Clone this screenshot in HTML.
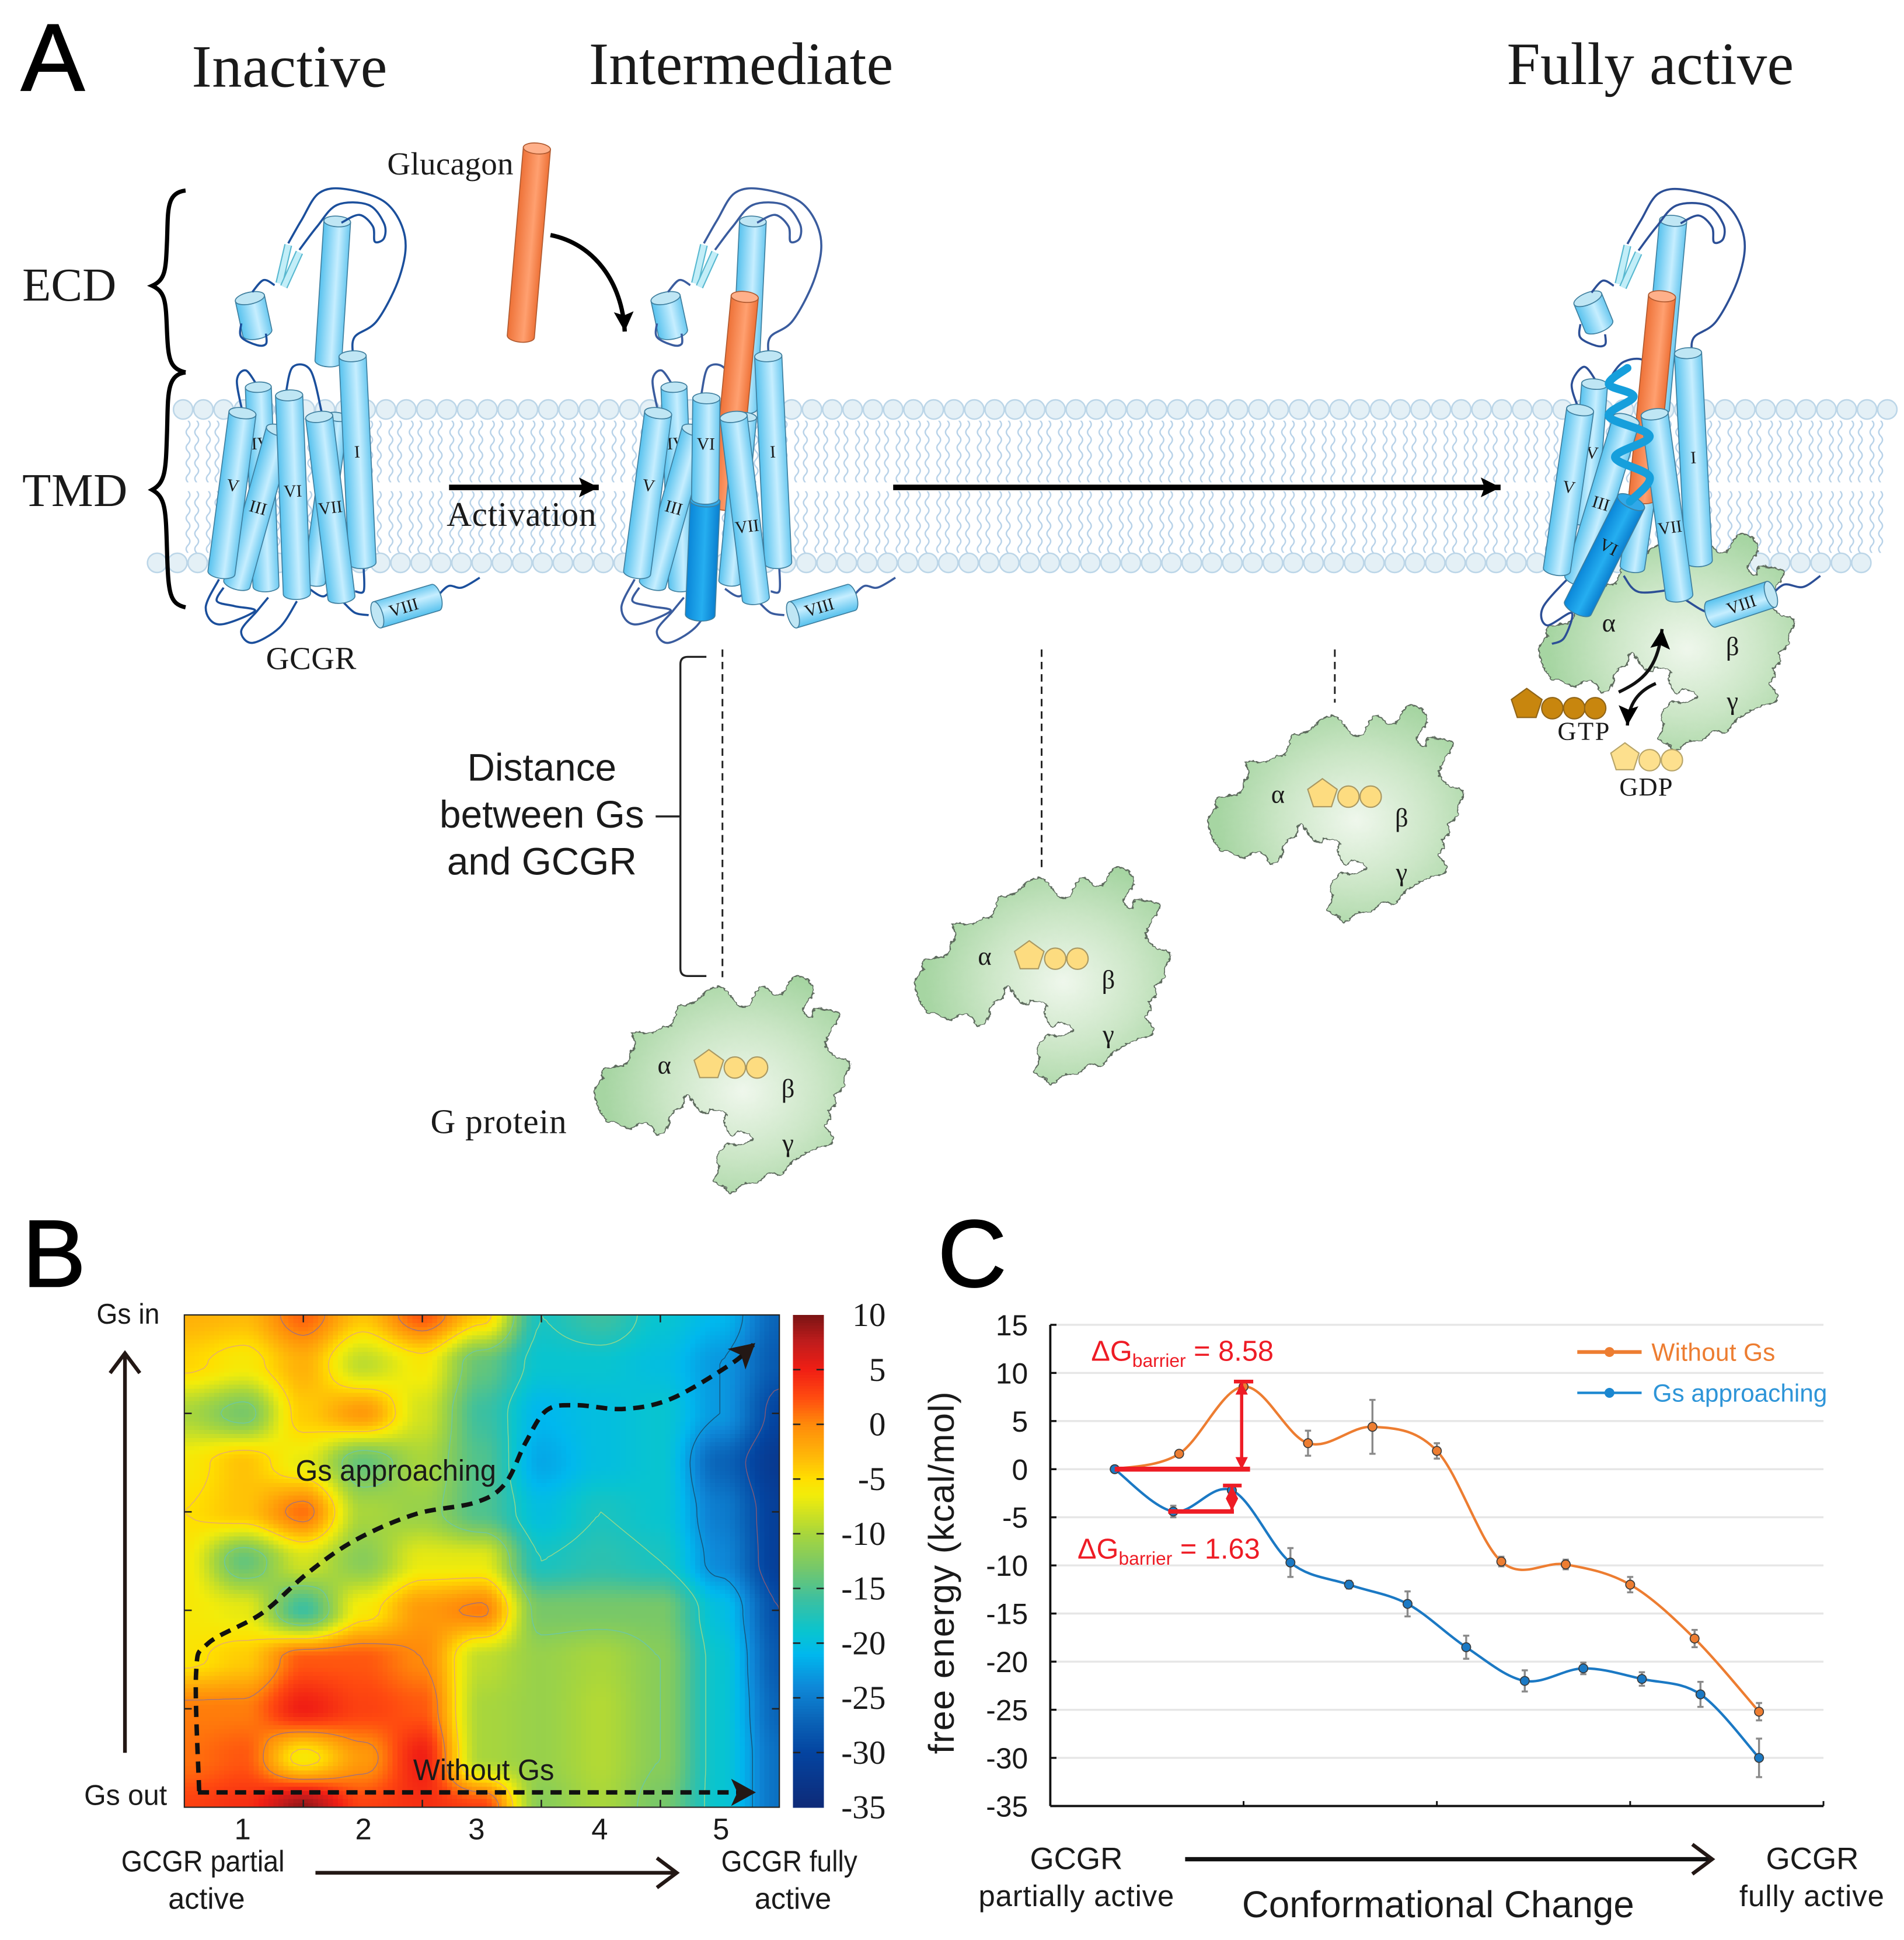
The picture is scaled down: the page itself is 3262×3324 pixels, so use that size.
<!DOCTYPE html>
<html lang="en">
<head>
<meta charset="utf-8">
<title>GCGR activation and free energy figure</title>
<style>
html,body{margin:0;padding:0;background:#fff;}
svg{display:block;}
.serif{font-family:"Liberation Serif",serif;fill:#1a1a1a;}
.sans{font-family:"Liberation Sans",sans-serif;fill:#1a1a1a;}
</style>
</head>
<body>
<svg id="fig" xmlns="http://www.w3.org/2000/svg" width="3262" height="3324" viewBox="0 0 1539.1 1568.3">
<defs>
  <linearGradient id="cy" x1="0" x2="1" y1="0" y2="0"><stop offset="0" stop-color="#58c2ee"/><stop offset=".6" stop-color="#c6eeff"/><stop offset="1" stop-color="#6cc9f0"/></linearGradient>
  <linearGradient id="dk" x1="0" x2="1" y1="0" y2="0"><stop offset="0" stop-color="#0a86d8"/><stop offset=".55" stop-color="#25aef0"/><stop offset="1" stop-color="#0a7fd0"/></linearGradient>
  <linearGradient id="or" x1="0" x2="1" y1="0" y2="0"><stop offset="0" stop-color="#ee7238"/><stop offset=".6" stop-color="#ffa070"/><stop offset="1" stop-color="#ee7238"/></linearGradient>
  <radialGradient id="gp" gradientUnits="userSpaceOnUse" cx="850" cy="760" r="620"><stop offset="0" stop-color="#eff7ec"/><stop offset=".55" stop-color="#cbe6c6"/><stop offset="1" stop-color="#a6d5a2"/></radialGradient>
  <pattern id="tails" patternUnits="userSpaceOnUse" x="148" y="340" width="16.4" height="50">
    <path d="M4,0 q3,3 0,6.25 q-3,3 0,6.25 q3,3 0,6.25 q-3,3 0,6.25 q3,3 0,6.25 q-3,3 0,6.25 q3,3 0,6.25 q-3,3 0,6.25 M11,0 q3,3 0,6.25 q-3,3 0,6.25 q3,3 0,6.25 q-3,3 0,6.25 q3,3 0,6.25 q-3,3 0,6.25 q3,3 0,6.25 q-3,3 0,6.25" fill="none" stroke="#b6d1e8" stroke-width="1.1"/>
  </pattern>
  <pattern id="tails2" patternUnits="userSpaceOnUse" x="148" y="397" width="16.4" height="50">
    <path d="M4,0 q3,3 0,6.25 q-3,3 0,6.25 q3,3 0,6.25 q-3,3 0,6.25 q3,3 0,6.25 q-3,3 0,6.25 q3,3 0,6.25 q-3,3 0,6.25 M11,0 q3,3 0,6.25 q-3,3 0,6.25 q3,3 0,6.25 q-3,3 0,6.25 q3,3 0,6.25 q-3,3 0,6.25 q3,3 0,6.25 q-3,3 0,6.25" fill="none" stroke="#b6d1e8" stroke-width="1.1"/>
  </pattern>
  <marker id="ah" markerUnits="userSpaceOnUse" markerWidth="22" markerHeight="18" refX="16" refY="8" orient="auto"><path d="M0,0 L16,8 L0,16 L3,8 Z" fill="#000"/></marker>
  <marker id="ahOpen" markerUnits="userSpaceOnUse" markerWidth="24" markerHeight="28" refX="19" refY="14" orient="auto"><path d="M3,2 L19,14 L3,26" fill="none" stroke="#231815" stroke-width="3"/></marker>
  <marker id="ahRed" markerUnits="userSpaceOnUse" markerWidth="12" markerHeight="12" refX="9" refY="5" orient="auto-start-reverse"><path d="M0,0 L10,5 L0,10 Z" fill="#ee1c25"/></marker>
  <marker id="ahDash" markerUnits="userSpaceOnUse" markerWidth="26" markerHeight="26" refX="18" refY="11" orient="auto"><path d="M0,0 L20,11 L0,22 L5,11 Z" fill="#231815"/></marker>
  <clipPath id="heatClip"><rect x="149" y="1063" width="481" height="398"/></clipPath>
  <filter id="rough" x="-5%" y="-5%" width="110%" height="110%"><feTurbulence type="fractalNoise" baseFrequency="0.045" numOctaves="2" seed="4"/><feDisplacementMap in="SourceGraphic" scale="24" xChannelSelector="R" yChannelSelector="G"/></filter>
</defs>

<rect x="0" y="0" width="1600" height="1600" fill="#fff"/>

<g id="membrane">
  <rect x="148" y="340" width="1376" height="50" fill="url(#tails)"/>
  <rect x="148" y="397" width="1376" height="50" fill="url(#tails2)"/>
</g>
<g id="blobs"></g>
<g id="rec1"></g>
<g id="rec2"></g>
<g id="blobActive" transform="translate(2.5,0.5)"></g>
<g id="rec3" transform="translate(2.5,0.5)"></g>

<g>
  <text class="sans" x="17" y="73" font-size="77" style="fill:#000;stroke:#000;stroke-width:1">A</text>
  <text class="serif" x="155" y="70" font-size="48.5" textLength="158">Inactive</text>
  <text class="serif" x="476" y="68" font-size="48.5" textLength="246">Intermediate</text>
  <text class="serif" x="1218" y="68" font-size="48.5" textLength="232">Fully active</text>
  <text class="serif" x="18" y="243" font-size="38" textLength="76">ECD</text>
  <text class="serif" x="18" y="409" font-size="38" textLength="85">TMD</text>
  <text class="serif" x="313" y="141" font-size="26" textLength="102">Glucagon</text>
  <text class="serif" x="361" y="425" font-size="28" textLength="121">Activation</text>
  <text class="serif" x="215" y="541" font-size="26" textLength="73">GCGR</text>
  <text class="serif" x="348" y="916" font-size="28" textLength="110">G protein</text>
  <text class="sans" x="438" y="631" font-size="31" text-anchor="middle">Distance</text>
  <text class="sans" x="438" y="669" font-size="31" text-anchor="middle">between Gs</text>
  <text class="sans" x="438" y="707" font-size="31" text-anchor="middle">and GCGR</text>
  <text class="serif" x="1259" y="598" font-size="21" textLength="42">GTP</text>
  <text class="serif" x="1309" y="643" font-size="21" textLength="43">GDP</text>

  <path d="M150,154 C134,156 136,170 135,195 C134,218 134,226 123,231 C134,236 134,244 135,268 C136,290 137,298 150,301" fill="none" stroke="#000" stroke-width="3.4"/>
  <path d="M150,301 C134,303 136,320 135,350 C134,380 134,390 123,396 C134,402 134,412 135,445 C136,480 137,488 150,491" fill="none" stroke="#000" stroke-width="3.4"/>
  <path d="M571,531 L556,531 Q550,531 550,537 L550,783 Q550,789 556,789 L571,789 M530,660 L550,660" fill="none" stroke="#222" stroke-width="1.6"/>
  <line x1="584" y1="525" x2="584" y2="790" stroke="#222" stroke-width="1.4" stroke-dasharray="6 4"/>
  <line x1="842" y1="525" x2="842" y2="702" stroke="#222" stroke-width="1.4" stroke-dasharray="6 4"/>
  <line x1="1079" y1="525" x2="1079" y2="568" stroke="#222" stroke-width="1.4" stroke-dasharray="6 4"/>
  <line x1="363" y1="394" x2="484" y2="394" stroke="#000" stroke-width="4.5" marker-end="url(#ah)"/>
  <line x1="722" y1="394" x2="1213" y2="394" stroke="#000" stroke-width="4.5" marker-end="url(#ah)"/>
  <path d="M445,190 C480,197 503,228 505,268" fill="none" stroke="#000" stroke-width="3.5" marker-end="url(#ah)"/>
  <path transform="translate(2.5,0.5)" d="M1306,559 C1325,550 1338,540 1341,508" fill="none" stroke="#111" stroke-width="2.6" marker-end="url(#ah)"/>
  <path transform="translate(2.5,0.5)" d="M1336,552 C1322,558 1314,568 1313,586" fill="none" stroke="#111" stroke-width="2.6" marker-end="url(#ah)"/>
</g>

<g id="panelB">
  <text class="sans" x="18" y="1040" font-size="77" style="fill:#000;stroke:#000;stroke-width:1">B</text>
  <g id="heat" clip-path="url(#heatClip)" shape-rendering="crispEdges"></g>
  <g id="contours" clip-path="url(#heatClip)"></g>
  <g id="heatTicks"></g>
  <rect x="149" y="1063" width="481" height="398" fill="none" stroke="#222" stroke-width="1"/>
  <g id="cbar" shape-rendering="crispEdges"></g>
  <g id="cbarLabels"></g>
  <g id="heatXLabels"></g>
  <text class="sans" x="78" y="1070" font-size="23" textLength="51" lengthAdjust="spacingAndGlyphs" fill="#231815">Gs in</text>
  <text class="sans" x="68" y="1459" font-size="23" textLength="67" lengthAdjust="spacingAndGlyphs" fill="#231815">Gs out</text>
  <text class="sans" x="98" y="1513" font-size="24" textLength="132" lengthAdjust="spacingAndGlyphs" fill="#231815">GCGR partial</text>
  <text class="sans" x="136" y="1543" font-size="24" textLength="62" lengthAdjust="spacingAndGlyphs" fill="#231815">active</text>
  <text class="sans" x="583" y="1513" font-size="24" textLength="110" lengthAdjust="spacingAndGlyphs" fill="#231815">GCGR fully</text>
  <text class="sans" x="610" y="1543" font-size="24" textLength="62" lengthAdjust="spacingAndGlyphs" fill="#231815">active</text>
  <line x1="101" y1="1417" x2="101" y2="1094" stroke="#231815" stroke-width="3" marker-end="url(#ahOpen)"/>
  <line x1="255" y1="1514" x2="547" y2="1514" stroke="#231815" stroke-width="3" marker-end="url(#ahOpen)"/>
  <path id="pathGs" fill="none" stroke="#111" stroke-width="3.6" stroke-dasharray="9 6" marker-end="url(#ahDash)"/>
  <line x1="160" y1="1449" x2="609" y2="1449" stroke="#111" stroke-width="3.6" stroke-dasharray="9 6" marker-end="url(#ahDash)"/>
  <text class="sans" x="239" y="1197" font-size="24" textLength="162" lengthAdjust="spacingAndGlyphs" fill="#231815">Gs approaching</text>
  <text class="sans" x="334" y="1439" font-size="24" textLength="114" lengthAdjust="spacingAndGlyphs" fill="#231815">Without Gs</text>
</g>

<g id="panelC">
  <text class="sans" x="758" y="1040" font-size="77" style="fill:#000;stroke:#000;stroke-width:1">C</text>
  <g id="cGrid"></g>
  <g id="cAxes"></g>
  <g id="cSeries"></g>
  <g id="cAnno"></g>
  <text class="sans" transform="translate(771,1418) rotate(-90)" font-size="29" textLength="293">free energy (kcal/mol)</text>
  <text class="sans" x="882" y="1100" font-size="23" style="fill:#ee1c25">ΔG<tspan font-size="15" dy="5">barrier</tspan><tspan dy="-5"> = 8.58</tspan></text>
  <text class="sans" x="871" y="1260" font-size="23" style="fill:#ee1c25">ΔG<tspan font-size="15" dy="5">barrier</tspan><tspan dy="-5"> = 1.63</tspan></text>
  <g>
    <line x1="1275" y1="1093" x2="1327" y2="1093" stroke="#ed7d31" stroke-width="3"/>
    <circle cx="1301" cy="1093" r="4" fill="#ed7d31"/>
    <text class="sans" x="1335" y="1100" font-size="20" textLength="100" style="fill:#ed7d31">Without Gs</text>
    <line x1="1275" y1="1126" x2="1327" y2="1126" stroke="#1b87d0" stroke-width="2"/>
    <circle cx="1301" cy="1126" r="4" fill="#1b87d0"/>
    <text class="sans" x="1336" y="1133" font-size="20" textLength="141" style="fill:#2e95d8">Gs approaching</text>
  </g>
  <text class="sans" x="870" y="1511" font-size="25" text-anchor="middle">GCGR</text>
  <text class="sans" x="791" y="1541" font-size="24" textLength="158">partially active</text>
  <text class="sans" x="1465" y="1511" font-size="25" text-anchor="middle">GCGR</text>
  <text class="sans" x="1406" y="1541" font-size="24" textLength="117">fully active</text>
  <line x1="958" y1="1503" x2="1384" y2="1503" stroke="#111" stroke-width="3.5" marker-end="url(#ahOpen)"/>
  <text class="sans" x="1004" y="1550" font-size="30" textLength="317" lengthAdjust="spacingAndGlyphs">Conformational Change</text>
</g>

<script>
/* ===== Panel B data ===== */
const heatColumns = [0,1,2,3,4,5,6,7,8,9,10];
const heatRows = [0,1,2,3,4,5,6,7,8,9,10];
const heatValues = [
  [-2.5,-3,1.5,-3.5,2,-4,-18,-16,-19,-21,-27],
  [-4.5,-6,-2.5,-9,-6,-14,-19,-19,-20,-23,-28],
  [-10,-13,-4,-1,-8,-16,-21,-20,-19,-23,-30],
  [-6,-3.5,-7,-14,-10,-15,-22,-20,-19,-27,-32],
  [-5,-3.5,1,-10,-11,-15,-20,-18,-19,-25,-31],
  [-6,-14,-8,-12,-7,-7,-18,-17,-18,-24,-31],
  [-6,-7,-16,-6,-1,0.5,-13,-13,-13,-20,-29],
  [-5.5,-4,2,2,0,-9,-11,-10,-12,-19,-28],
  [0.5,0.5,5,3,2,-10,-11,-9.5,-12,-19,-27],
  [1,2,-6,-1,5,-10,-11,-9.5,-12,-19,-26],
  [3,4,9,3,4,3,-12,-10,-13,-19,-26]
];
const colorbarTicks = [10,5,0,-5,-10,-15,-20,-25,-30,-35];
const heatXTickLabels = ['1','2','3','4','5'];
const heatXLabelColumns = [0.98,3.01,4.91,6.98,9.02];
const contourLevels = [0,-5,-12,-18,-23,-29];

/* ===== Panel C data ===== */
const yTicks = [15,10,5,0,-5,-10,-15,-20,-25,-30,-35];
const xTicks = [-1,2,5,8,11];
const withoutGsX = [0,1,2,3,4,5,6,7,8,9,10];
const withoutGsValues = [0,1.6,8.58,2.7,4.4,1.9,-9.6,-9.9,-12,-17.6,-25.2];
const withoutGsErrors = [0.2,0.3,0.4,1.3,2.8,0.8,0.5,0.5,0.8,0.9,0.9];
const gsApproachingX = [0,0.909,1.818,2.727,3.636,4.545,5.455,6.364,7.273,8.182,9.091,10];
const gsApproachingValues = [0,-4.4,-2.2,-9.7,-12,-14,-18.5,-22,-20.7,-21.8,-23.4,-30];
const gsApproachingErrors = [0.2,0.6,0.3,1.5,0.4,1.3,1.2,1.1,0.6,0.7,1.3,2];

const NS = 'http://www.w3.org/2000/svg';
function mk(tag, parent, attrs){
  const el = document.createElementNS(NS, tag);
  for (const k in attrs) el.setAttribute(k, attrs[k]);
  parent.appendChild(el);
  return el;
}
function smooth(p){
  let d = 'M' + p[0][0] + ',' + p[0][1];
  for (let i = 0; i < p.length - 1; i++){
    const a = p[Math.max(i-1,0)], b = p[i], c = p[i+1], e = p[Math.min(i+2,p.length-1)];
    d += ' C' + (b[0]+(c[0]-a[0])/6).toFixed(2) + ',' + (b[1]+(c[1]-a[1])/6).toFixed(2) + ' ' +
         (c[0]-(e[0]-b[0])/6).toFixed(2) + ',' + (c[1]-(e[1]-b[1])/6).toFixed(2) + ' ' +
         c[0].toFixed(2) + ',' + c[1].toFixed(2);
  }
  return d;
}

/* ===== Membrane heads ===== */
const membrane = document.getElementById('membrane');
[[148,331,85],[127,455,85]].forEach(function(row, r){
  for (let i = 0; i < row[2]; i++){
    const h = mk('circle', membrane, {cx: row[0]+i*16.4, cy: row[1], r: 7.8, fill:'#e4f0f6', stroke:'#bcd6e8', 'stroke-width':1.2});
    
    
  }
});

/* ===== Cylinders ===== */
function cyl(parent, name, x1, y1, x2, y2, r, grad, label, t){
  const L = Math.hypot(x2-x1, y2-y1);
  const deg = -Math.atan2(x2-x1, y2-y1)*180/Math.PI;
  const g = mk('g', parent, {transform:'translate('+x1+','+y1+') rotate('+deg.toFixed(2)+')'});
  
  
  const capStroke = grad === 'or' ? '#b05a30' : '#3f7f9f';
  mk('path', g, {d:'M'+(-r)+',0 L'+(-r)+','+L+' A'+r+','+(r*.42)+' 0 0 0 '+r+','+L+' L'+r+',0 Z', fill:'url(#'+grad+')', stroke:capStroke, 'stroke-width':.8});
  mk('ellipse', g, {cx:0, cy:0, rx:r, ry:r*.4, fill: grad==='or' ? '#ffb08a' : (grad==='dk' ? '#30a8e8' : '#bfe6f4'), stroke:capStroke, 'stroke-width':.8});
  if (label){
    const sideways = Math.abs(deg) > 60;
    const ly = L*t;
    const tx = mk('text', g, {x:0, y: sideways ? 5 : ly+5, 'font-size':14, 'text-anchor':'middle', 'class':'serif'});
    if (sideways) tx.setAttribute('transform', 'translate(0,'+ly+') rotate('+(deg < 0 ? 90 : -90)+')');
    tx.textContent = label;
  }
  return g;
}
function loops(parent, dx, color, list){
  list.forEach(function(pts){
    const d = smooth(pts.map(function(p){ return [p[0]+dx, p[1]]; }));
    const l = mk('path', parent, {d:d, fill:'none', stroke:color, 'stroke-width':1.7});
    
    
  });
}
const topLoops = [
  [[285,284.5],[287,272],[305,259],[323,223.7],[327.3,191.3],[312,164],[279.8,152.9],[258,156],[243.8,177.8],[233,196.7]],
  [[276,180],[290.6,173.7],[301.4,183],[303,195.3],[310.4,192.6],[310.4,180.5],[297.8,165.6],[272.6,165.6],[256.4,183],[242,202]],
  [[204,236],[213,226.4],[222,230.5]],
  [[195,261.5],[195,272.4],[207.8,279],[215,278],[215,269.7]],
  [[196,333],[191.5,307.5],[198.7,299.4],[207.8,311.5]],
  [[231,318.3],[236.6,296.7],[251,299.4],[260,333]]
];
const bottomLoops = [
  [[177,468.3],[166.3,491.3],[177,504.8],[206,494],[189.7,490],[175.3,485.9],[180.7,475]],
  [[240,486],[225.8,507.5],[204,519.7],[195,510],[207.8,494],[216.8,483]],
  [[278,487.3],[287,495.4],[298,497.3]],
  [[353.6,482],[362.6,473.7],[373.4,475],[387.8,467]],
  [[294,460],[294,477.8],[287,478]],
  [[250,476],[262,482],[272,470]]
];
function strands(parent, dx){
  [[225.8,229,233,198],[229.4,231.8,242,204]].forEach(function(s){
    const under = mk('line', parent, {x1:s[0]+dx, y1:s[1], x2:s[2]+dx, y2:s[3], stroke:'#58b8d0', 'stroke-width':6.4});
    
    
    const st = mk('line', parent, {x1:s[0]+dx, y1:s[1], x2:s[2]+dx, y2:s[3], stroke:'#c2eef8', 'stroke-width':4.4});
    
    
  });
}
function glucagon(parent, name, x1, y1, x2, y2){ return cyl(parent, name, x1, y1, x2, y2, 11, 'or'); }

/* Inactive receptor */
(function(){
  const g = document.getElementById('rec1');
  loops(g, 0, '#1b4f9c', bottomLoops);
  cyl(g,'ecd-helix',272.6,179,265.4,292,10.8,'cy');
  cyl(g,'ecd-short-helix',202,241,208,269,12,'cy');
  loops(g, 0, '#1b4f9c', topLoops);
  strands(g, 0);
  cyl(g,'helix-ii',272.6,337,254,470,9,'cy');
  cyl(g,'helix-iv',208.8,313,215,474,10.5,'cy','IV',.28);
  cyl(g,'helix-iii',226,348,191.5,472,11,'cy','III',.5);
  cyl(g,'helix-vi',233.7,319.6,240,480,11,'cy','VI',.48);
  cyl(g,'helix-i',285,288,293,455,11,'cy','I',.46);
  cyl(g,'helix-vii',258,337,276,483,11,'cy','VII',.5);
  cyl(g,'helix-v',196,334,179,463,11,'cy','V',.45);
  cyl(g,'helix-viii',305,497,352,483,11,'cy','VIII',.45);
})();

/* Intermediate receptor */
(function(){
  const dx = 336;
  const g = document.getElementById('rec2');
  const c = '#3a5c9e';
  loops(g, dx, c, bottomLoops);
  cyl(g,'ecd-helix',272.6+dx,179,265.4+dx,330,10.8,'cy');
  cyl(g,'ecd-short-helix',202+dx,241,208+dx,269,12,'cy');
  loops(g, dx, c, topLoops);
  strands(g, dx);
  glucagon(g,'bound-glucagon',602,240,586,408);
  cyl(g,'helix-ii',272.6+dx-6,337,254+dx,470,9,'cy');
  cyl(g,'helix-iv',208.8+dx,313,215+dx,474,10.5,'cy','IV',.28);
  cyl(g,'helix-iii',226+dx,348,191.5+dx,472,11,'cy','III',.5);
  cyl(g,'helix-vi-lower',570,405,566,497,12,'dk');
  cyl(g,'helix-vi-upper',571,322,570,403,11,'cy','VI',.45);
  cyl(g,'helix-i',285+dx,288,293+dx,455,11,'cy','I',.46);
  cyl(g,'helix-vii',593,337,611,484,11,'cy','VII',.6);
  cyl(g,'helix-v',196+dx,334,179+dx,463,11,'cy','V',.45);
  cyl(g,'helix-viii',305+dx,497,352+dx,483,11,'cy','VIII',.45);
})();

/* Gold / green G proteins */
const blobPts = [[215,650],[250,640],[330,620],[350,560],[365,520],[355,460],[400,460],[450,460],[490,430],[530,420],[560,330],[620,310],[660,280],[690,240],[750,225],[790,260],[830,320],[875,320],[920,235],[950,225],[990,262],[1030,255],[1075,175],[1120,175],[1170,240],[1120,340],[1155,380],[1180,335],[1275,355],[1280,385],[1220,510],[1260,580],[1320,600],[1328,650],[1300,685],[1305,740],[1260,780],[1270,830],[1235,860],[1245,900],[1220,940],[1255,1000],[1240,1035],[1170,1060],[1120,1090],[1070,1130],[1020,1190],[960,1185],[920,1230],[850,1240],[800,1285],[770,1260],[720,1220],[745,1170],[735,1110],[775,1035],[830,1040],[895,1005],[830,965],[800,995],[770,930],[770,870],[710,855],[680,875],[640,840],[610,785],[590,790],[580,840],[530,875],[510,950],[470,990],[440,940],[390,925],[340,955],[280,920],[240,915],[190,810],[190,740],[220,700],[215,650]];
function pentagon(cx, cy, r){
  const pts = [];
  for (let i = 0; i < 5; i++){
    const a = -Math.PI/2 + i*2*Math.PI/5;
    pts.push((cx+r*Math.cos(a)).toFixed(1)+','+(cy+r*Math.sin(a)).toFixed(1));
  }
  return pts.join(' ');
}
function gprotein(parent, name, dx, dy, nucleotide){
  const g = mk('g', parent, {});
  
  
  mk('path', g, {d: smooth(blobPts)+' Z',
    transform:'translate('+(447.3+dx)+','+(762.7+dy)+') scale(.1802,.1569)',
    fill:'url(#gp)', stroke:'#5d6b5d', 'stroke-width':6, filter:'url(#rough)'});
  [['α',537,868],['β',637,887],['γ',637,931]].forEach(function(l){
    const t = mk('text', g, {x:l[1]+dx, y:l[2]+dy, 'font-size':21, 'text-anchor':'middle', 'class':'serif', fill:'#1e3a22'});
    t.textContent = l[0];
  });
  if (nucleotide){
    mk('polygon', g, {points: pentagon(573+dx, 861+dy, 12.5), fill:'#fddc80', stroke:'#a99862', 'stroke-width':1});
    mk('circle', g, {cx:594+dx, cy:863+dy, r:8.6, fill:'#fddc80', stroke:'#a99862', 'stroke-width':1});
    mk('circle', g, {cx:612+dx, cy:863+dy, r:8.6, fill:'#fddc80', stroke:'#a99862', 'stroke-width':1});
  }
}
const blobs = document.getElementById('blobs');
gprotein(blobs,'g-protein-far',0,0,true);
gprotein(blobs,'g-protein-middle',259,-88,true);
gprotein(blobs,'g-protein-near',496,-219,true);
const ba = document.getElementById('blobActive');
gprotein(ba,'g-protein-coupled',761,-358,false);
[[1231.6,569,13,1252.3,1270,1287,572,'#c8860e','#8f6418','gtp'],[1311,612,12,1331,1349,0,614,'#fde08e','#b7a468','gdp']].forEach(function(n){
  const g = mk('g', ba, {});
  
  
  mk('polygon', g, {points: pentagon(n[0], n[1], n[2]), fill:n[7], stroke:n[8], 'stroke-width':1});
  [n[3],n[4],n[5]].forEach(function(cx){
    if (cx) mk('circle', g, {cx:cx, cy:n[6], r:8.6, fill:n[7], stroke:n[8], 'stroke-width':1});
  });
});

/* Fully active receptor */
(function(){
  const dx = 1080;
  const g = document.getElementById('rec3');
  const c = '#2c4f96';
  loops(g, dx, c, [[[1270,462],[1245,490],[1248,505],[1268,495],[1262,515],[1252,520]].map(function(p){return [p[0]-dx,p[1]];}),
                    [[1355,481],[1372,492],[1382,496]].map(function(p){return [p[0]-dx,p[1]];}),
                    [[1430,480],[1440,472],[1455,474],[1469,465]].map(function(p){return [p[0]-dx,p[1]];}),
                    [[1310,465],[1322,478],[1350,476]].map(function(p){return [p[0]-dx,p[1]];})]);
  cyl(g,'ecd-helix',1350,178,1336,330,11,'cy');
  cyl(g,'ecd-short-helix',1281,241,1290,263,12,'cy');
  loops(g, dx, c, topLoops.slice(0,4));
  loops(g, 0, c, [[[1274,331],[1268,310],[1278,296],[1288,308]],[[1296,310],[1310,292],[1330,294],[1337,332]]]);
  strands(g, dx);
  cyl(g,'helix-ii',1335,336,1317,458,10,'cy');
  glucagon(g,'bound-glucagon',1341,239,1325,402);
  cyl(g,'helix-iv',1286.5,310,1278,420,10.5,'cy','IV',.5);
  cyl(g,'helix-iii',1312,339,1273,468,11,'cy','III',.52);
  cyl(g,'helix-i',1362,285,1370.7,453,11,'cy','I',.5);
  cyl(g,'helix-vii',1335,334.4,1355,481.4,11,'cy','VII',.62);
  cyl(g,'helix-v',1274.8,331,1256,460,11,'cy','V',.48);
  cyl(g,'helix-vi-lower',1316,405.4,1273,491,12,'dk','VI',.42);
  const coil = mk('path', g, {d: smooth([[1315,405],[1331,385],[1303,369],[1331,352],[1298,336],[1318,320],[1298,310],[1313,297]]), fill:'none', stroke:'#169fdc', 'stroke-width':6.5, 'stroke-linecap':'round'});
  
  
  cyl(g,'helix-viii',1429,480,1381,496,11,'cy','VIII',.5);
})();

/* Free glucagon */
glucagon(document.getElementById('rec1'),'glucagon-peptide',434,120,421,272);

/* ===== Panel B drawing ===== */
const colorStops = [[10,'#7a1414'],[7.5,'#c01c1c'],[5,'#f01e14'],[2.5,'#ff4a10'],[0,'#ff8a0a'],[-3,'#ffb908'],[-5,'#ffdf00'],[-6.5,'#f2ec0a'],[-10,'#a8d63c'],[-13,'#78c868'],[-16,'#3cc0a0'],[-19,'#08c4d0'],[-21,'#00b8ee'],[-24,'#0e88d8'],[-27,'#0a64b8'],[-30,'#0444a0'],[-35,'#0e2a78']];
function hex(c){ return [parseInt(c.slice(1,3),16),parseInt(c.slice(3,5),16),parseInt(c.slice(5,7),16)]; }
function colorOf(v){
  if (v >= colorStops[0][0]) return colorStops[0][1];
  for (let i = 0; i < colorStops.length-1; i++){
    const a = colorStops[i], b = colorStops[i+1];
    if (v <= a[0] && v >= b[0]){
      const t = (a[0]-v)/(a[0]-b[0]), ca = hex(a[1]), cb = hex(b[1]);
      return 'rgb('+Math.round(ca[0]+(cb[0]-ca[0])*t)+','+Math.round(ca[1]+(cb[1]-ca[1])*t)+','+Math.round(ca[2]+(cb[2]-ca[2])*t)+')';
    }
  }
  return colorStops[colorStops.length-1][1];
}
const heatLeft = 149, heatRight = 630, heatTop = 1063, heatBottom = 1461;
function xHeat(c){ return heatLeft + (c/(heatColumns.length-1))*(heatRight-heatLeft); }
function yHeat(r){ return heatTop + (r/(heatRows.length-1))*(heatBottom-heatTop); }
function ease(t){ return t*t*(3-2*t); }
function sampleHeat(c, r){
  const c0 = Math.min(Math.floor(c), heatColumns.length-2), r0 = Math.min(Math.floor(r), heatRows.length-2);
  const u = ease(c-c0), v = ease(r-r0);
  return (heatValues[r0][c0]*(1-u)+heatValues[r0][c0+1]*u)*(1-v) + (heatValues[r0+1][c0]*(1-u)+heatValues[r0+1][c0+1]*u)*v;
}
const SUB = 12;
const heatGroup = document.getElementById('heat');
const nC = (heatColumns.length-1)*SUB, nR = (heatRows.length-1)*SUB;
const fine = [];
for (let j = 0; j <= nR; j++){
  const line = [];
  for (let i = 0; i <= nC; i++) line.push(sampleHeat(i/SUB, j/SUB));
  fine.push(line);
}
for (let j = 0; j < nR; j++){
  for (let i = 0; i < nC; i++){
    const v = (fine[j][i]+fine[j][i+1]+fine[j+1][i]+fine[j+1][i+1])/4;
    const x0 = xHeat(i/SUB), y0 = yHeat(j/SUB);
    const cell = document.createElementNS(NS,'rect');
    cell.setAttribute('x', x0.toFixed(2));
    cell.setAttribute('y', y0.toFixed(2));
    cell.setAttribute('width', (xHeat((i+1)/SUB)-x0+.5).toFixed(2));
    cell.setAttribute('height', (yHeat((j+1)/SUB)-y0+.5).toFixed(2));
    cell.setAttribute('fill', colorOf(v));
    
    
    heatGroup.appendChild(cell);
  }
}
/* contour lines from the same field */
const contourColors = ['#6a62c4','#d68ab8','#5cc4d4','#e2e46a','#202a38','#d0605a'];
const contourGroup = document.getElementById('contours');
contourLevels.forEach(function(lv, k){
  let d = '';
  function pt(i0,j0,i1,j1){
    const a = fine[j0][i0], b = fine[j1][i1], t = (lv-a)/(b-a);
    return xHeat((i0+(i1-i0)*t)/SUB).toFixed(1)+','+yHeat((j0+(j1-j0)*t)/SUB).toFixed(1);
  }
  for (let j = 0; j < nR; j++){
    for (let i = 0; i < nC; i++){
      const cr = [];
      if ((fine[j][i]>lv)!==(fine[j][i+1]>lv)) cr.push(pt(i,j,i+1,j));
      if ((fine[j][i+1]>lv)!==(fine[j+1][i+1]>lv)) cr.push(pt(i+1,j,i+1,j+1));
      if ((fine[j+1][i+1]>lv)!==(fine[j+1][i]>lv)) cr.push(pt(i+1,j+1,i,j+1));
      if ((fine[j+1][i]>lv)!==(fine[j][i]>lv)) cr.push(pt(i,j+1,i,j));
      if (cr.length >= 2) d += 'M'+cr[0]+'L'+cr[1];
      if (cr.length === 4) d += 'M'+cr[2]+'L'+cr[3];
    }
  }
  const c = document.createElementNS(NS,'path');
  c.setAttribute('d', d);
  c.setAttribute('fill', 'none');
  c.setAttribute('stroke', contourColors[k]);
  c.setAttribute('stroke-width', '.7');
  c.setAttribute('opacity', '.6');
  
  
  contourGroup.appendChild(c);
});
/* heatmap ticks */
const tickG = document.getElementById('heatTicks');
[2,4,6,8].forEach(function(c){
  [[heatTop,heatTop+6],[heatBottom,heatBottom-6]].forEach(function(e){
    const t = mk('line', tickG, {x1:xHeat(c), x2:xHeat(c), y1:e[0], y2:e[1], stroke:'#222', 'stroke-width':1.2});
    
    
  });
  [[heatLeft,heatLeft+6],[heatRight,heatRight-6]].forEach(function(e){
    const t = mk('line', tickG, {y1:yHeat(c), y2:yHeat(c), x1:e[0], x2:e[1], stroke:'#222', 'stroke-width':1.2});
    
    
  });
});
/* colourbar */
const cbLeft = 641, cbRight = 666;
function yBar(v){ return heatTop + (colorbarTicks[0]-v)/(colorbarTicks[0]-colorbarTicks[colorbarTicks.length-1])*(heatBottom-heatTop); }
const cbar = document.getElementById('cbar');
for (let v = 10; v > -35; v -= 0.25){
  const s = document.createElementNS(NS,'rect');
  s.setAttribute('x', cbLeft);
  s.setAttribute('y', yBar(v).toFixed(2));
  s.setAttribute('width', cbRight-cbLeft);
  s.setAttribute('height', (yBar(v-.25)-yBar(v)+.4).toFixed(2));
  s.setAttribute('fill', colorOf(v-.125));
  
  
  cbar.appendChild(s);
}
const cbLab = document.getElementById('cbarLabels');
colorbarTicks.forEach(function(v){
  const y = yBar(v);
  if (v !== 10 && v !== -35){
    [[cbLeft,cbLeft+6],[cbRight,cbRight-6]].forEach(function(e){
      const t = mk('line', cbLab, {x1:e[0], x2:e[1], y1:y, y2:y, stroke:'#222', 'stroke-width':1.2});
      
      
    });
  }
  const t = mk('text', cbLab, {x:716, y:y+9, 'font-size':27, 'text-anchor':'end', 'class':'serif', fill:'#231815'});
  
  
  t.textContent = String(v);
});
const xLab = document.getElementById('heatXLabels');
heatXTickLabels.forEach(function(lbl, i){
  const t = mk('text', xLab, {x:xHeat(heatXLabelColumns[i]), y:1487, 'font-size':24, 'text-anchor':'middle', 'class':'sans', fill:'#231815'});
  
  
  t.textContent = lbl;
});
/* Gs approaching path */
document.getElementById('pathGs').setAttribute('d', smooth([[161,1448],[158.5,1353],[168,1328.7],[211.4,1304.4],[249.8,1270.8],[288,1244.6],[336,1224],[384,1214.7],[408,1199.8],[425,1166],[442,1140],[466,1136],[504.4,1139],[543,1130.6],[591,1102.6],[609,1087]]));

/* ===== Panel C drawing ===== */
const axisLeft = 849, axisRight = 1474, axisTop = 1071, axisBottom = 1460;
function xC(v){ return axisLeft + (v+1)/12*(axisRight-axisLeft); }
function yC(v){ return axisTop + (15-v)/50*(axisBottom-axisTop); }
const cGrid = document.getElementById('cGrid'), cAxes = document.getElementById('cAxes');
yTicks.forEach(function(v){
  if (v !== -35){
    const g = mk('line', cGrid, {x1:axisLeft, x2:axisRight, y1:yC(v), y2:yC(v), stroke:'#e6e6e6', 'stroke-width':1.6});
    
    
  }
  const tk = mk('line', cAxes, {x1:axisLeft, x2:axisLeft+5, y1:yC(v), y2:yC(v), stroke:'#111', 'stroke-width':1.6});
  
  
  const t = mk('text', cAxes, {x:831, y:yC(v)+8.5, 'font-size':23.5, 'text-anchor':'end', 'class':'sans'});
  
  
  t.textContent = String(v);
});
const yAxisLine = mk('line', cAxes, {x1:axisLeft, x2:axisLeft, y1:axisTop, y2:axisBottom, stroke:'#111', 'stroke-width':1.8});


const xAxisLine = mk('line', cAxes, {x1:axisLeft, x2:axisRight, y1:axisBottom, y2:axisBottom, stroke:'#111', 'stroke-width':1.8});


xTicks.forEach(function(v){
  const tk = mk('line', cAxes, {x1:xC(v), x2:xC(v), y1:axisBottom, y2:axisBottom-4, stroke:'#111', 'stroke-width':1.4});
  
  
});
const cSeries = document.getElementById('cSeries');
function drawSeries(name, xs, ys, errs, color, fill){
  const g = mk('g', cSeries, {});
  
  
  const line = mk('path', g, {d: smooth(xs.map(function(x,i){ return [xC(x), yC(ys[i])]; })), fill:'none', stroke:color, 'stroke-width':2});
  
  
  xs.forEach(function(x,i){
    const px = xC(x);
    const e = mk('path', g, {d:'M'+(px-2.5)+','+yC(ys[i]+errs[i])+' h5 M'+px+','+yC(ys[i]+errs[i])+' V'+yC(ys[i]-errs[i])+' M'+(px-2.5)+','+yC(ys[i]-errs[i])+' h5', stroke:'#8a8a8a', 'stroke-width':1.6, fill:'none'});
    
    
  });
  xs.forEach(function(x,i){
    const p = mk('circle', g, {cx:xC(x), cy:yC(ys[i]), r:3.6, fill:fill, stroke:'#3a3a3a', 'stroke-width':.8});
    
    
  });
}
drawSeries('without-gs', withoutGsX, withoutGsValues, withoutGsErrors, '#ed7d31', '#ed7d31');
drawSeries('gs-approaching', gsApproachingX, gsApproachingValues, gsApproachingErrors, '#1b79c4', '#1b79c4');
const anno = document.getElementById('cAnno');
[[0,2.1,0,4,'barrier-baseline-without-gs'],[0.83,1.85,-4.4,3.6,'barrier-baseline-gs-approaching'],[1.85,2.15,9.1,3,'barrier-cap-without-gs'],[1.68,1.97,-1.7,3,'barrier-cap-gs-approaching']].forEach(function(a){
  const l = mk('line', anno, {x1:xC(a[0]), x2:xC(a[1]), y1:yC(a[2]), y2:yC(a[2]), stroke:'#ee1c25', 'stroke-width':a[3]});
  
  
});
[[1.97,8.9,0.1,'barrier-arrow-without-gs'],[1.82,-1.9,-4.2,'barrier-arrow-gs-approaching']].forEach(function(a){
  const l = mk('line', anno, {x1:xC(a[0]), x2:xC(a[0]), y1:yC(a[1]), y2:yC(a[2]), stroke:'#ee1c25', 'stroke-width':2.6, 'marker-start':'url(#ahRed)', 'marker-end':'url(#ahRed)'});
  
  
});
</script>
</svg>
</body>
</html>
